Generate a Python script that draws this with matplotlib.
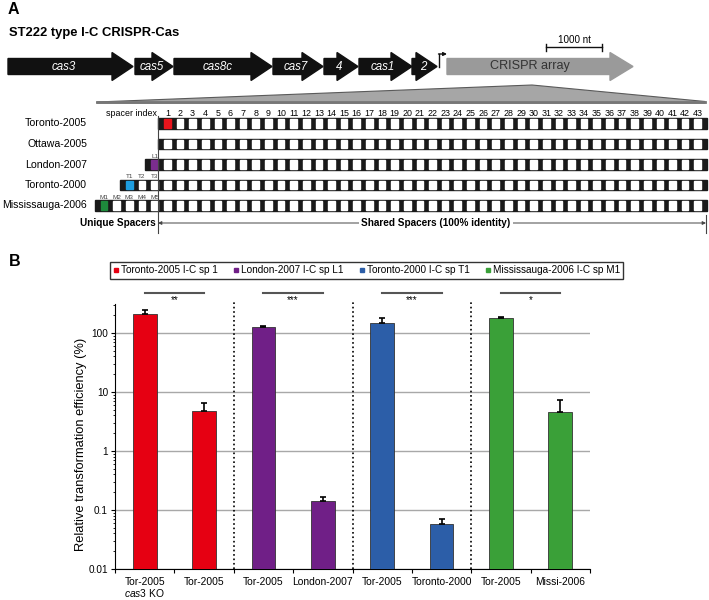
import matplotlib.pyplot as plt
from matplotlib.patches import Polygon, Rectangle
from matplotlib.lines import Line2D

plt.rcParams['font.family'] = ['Liberation Sans', 'DejaVu Sans']
plt.rcParams['mathtext.fontset'] = 'custom'
plt.rcParams['mathtext.it'] = 'Liberation Sans:italic'
plt.rcParams['mathtext.rm'] = 'Liberation Sans'

# ---- panel A data (schematic, drawn in pixel units) ----
genes = ['cas3', 'cas5', 'cas8c', 'cas7', '4', 'cas1', '2']
gene_start = [8, 135, 174, 273, 324, 359, 412]
gene_end = [133, 173, 272, 323, 358, 412, 437]

strains = ['Toronto-2005', 'Ottawa-2005', 'London-2007', 'Toronto-2000', 'Mississauga-2006']
unique_prefix = ['', '', 'L', 'T', 'M']
n_unique = [0, 0, 1, 3, 5]
n_shared = 43
hit_spacer = [('shared', 1), None, ('unique', 1), ('unique', 1), ('unique', 1)]
hit_color = ['#e8141c', None, '#7b2d8e', '#1e9ee0', '#1e8a3c']

# ---- panel B data ----
bar_labels = ['Tor-2005\n$\\mathit{cas3}$ KO', 'Tor-2005', 'Tor-2005', 'London-2007',
              'Tor-2005', 'Toronto-2000', 'Tor-2005', 'Missi-2006']
efficiency = [210, 4.7, 125, 0.14, 148, 0.058, 177, 4.6]
err_up = [38, 1.9, 6, 0.026, 32, 0.012, 8, 2.7]
groups = ['Toronto-2005 I-C sp 1', 'London-2007 I-C sp L1',
          'Toronto-2000 I-C sp T1', 'Mississauga-2006 I-C sp M1']
group_colors = ['#e60012', '#701f87', '#2c5ea8', '#3aa038']
significance = ['**', '***', '***', '*']

fig = plt.figure(figsize=(7.09, 6.0), dpi=100)

# canvas for panel A
ax0 = fig.add_axes([0, 0, 1, 1])
ax0.set_xlim(0, 709)
ax0.set_ylim(600, 0)
ax0.axis('off')

ax0.text(8, 9, 'A', fontsize=11.5, fontweight='bold', va='center')
ax0.text(9, 33, 'ST222 type I-C CRISPR-Cas', fontsize=9.4, fontweight='bold', va='center')
ax0.text(9, 262, 'B', fontsize=11.5, fontweight='bold', va='center')

# gene arrows
yc = 66.5
for name, s, e in zip(genes, gene_start, gene_end):
    head = min(21, e - s)
    b = e - head
    pts = [(s, yc - 8), (b, yc - 8), (b, yc - 14), (e, yc), (b, yc + 14), (b, yc + 8), (s, yc + 8)]
    ax0.add_patch(Polygon(pts, closed=True, color='#111111'))
    ax0.text(s + 0.45 * (e - s), yc, name, color='white', fontsize=8.3, style='italic',
             ha='center', va='center')

# promoter
ax0.plot([439, 439], [67, 54], color='#111111', lw=1)
ax0.annotate('', xy=(447, 54), xytext=(438.5, 54),
             arrowprops=dict(arrowstyle='-|>', color='#111111', lw=1, mutation_scale=5,
                             shrinkA=0, shrinkB=0))

# CRISPR array
s, e = 447, 633
b = e - 23
pts = [(s, yc - 8), (b, yc - 8), (b, yc - 14), (e, yc), (b, yc + 14), (b, yc + 8), (s, yc + 8)]
ax0.add_patch(Polygon(pts, closed=True, color='#9a9a9a'))
ax0.text(530, yc, 'CRISPR array', color='#333333', fontsize=9.1, ha='center', va='center')

# scale bar
ax0.plot([546, 602], [47, 47], color='#111111', lw=1)
ax0.plot([546, 546], [43.5, 50.5], color='#111111', lw=1)
ax0.plot([602, 602], [43.5, 50.5], color='#111111', lw=1)
ax0.text(574, 40, '1000 nt', fontsize=7.1, ha='center', va='center')

# zoom wedge
ax0.add_patch(Polygon([(97, 102), (532, 85), (705, 101.5), (705, 103), (97, 103)],
                      closed=True, facecolor='#a6a6a6', edgecolor='#5a5a5a', lw=0.8))
ax0.plot([97, 705], [102, 102], color='#777777', lw=2)

# spacer arrays
u, r = 12.63, 6.0
sp = u - r
x0 = 158
h = 10.5
ax0.text(157, 113, 'spacer index', fontsize=6.4, ha='right', va='center')
for k in range(1, n_shared + 1):
    ax0.text(x0 + (k - 1) * u + r + sp / 2, 113, str(k), fontsize=6.4, ha='center', va='center')

for i, name in enumerate(strains):
    y = 123.5 + 20.5 * i
    nu = n_unique[i]
    xs = x0 - nu * u
    ax0.text(87, y, name, fontsize=7.6, ha='right', va='center')
    ax0.add_patch(Rectangle((xs, y - h / 2), (nu + n_shared) * u + r, h, color='#1a1a1a'))
    for k in range(nu + n_shared):
        fc = 'white'
        hit = hit_spacer[i]
        if hit is not None:
            if hit[0] == 'unique' and k == hit[1] - 1:
                fc = hit_color[i]
            if hit[0] == 'shared' and k == nu + hit[1] - 1:
                fc = hit_color[i]
        ax0.add_patch(Rectangle((xs + k * u + r, y - h / 2 + 1.2), sp, h - 2.4, color=fc))
    for j in range(nu):
        ax0.text(xs + j * u + r + sp / 2, y - h / 2 - 3.2, unique_prefix[i] + str(j + 1),
                 fontsize=4.6, color='#444444', ha='center', va='center')

ax0.plot([158, 158], [116, 233], color='#444444', lw=0.8)
ax0.plot([706, 706], [215, 233], color='#444444', lw=0.8)
ax0.annotate('', xy=(158, 223), xytext=(706, 223),
             arrowprops=dict(arrowstyle='<|-|>', color='#444444', lw=0.7, mutation_scale=5,
                             shrinkA=0, shrinkB=0))
ax0.text(436, 223, 'Shared Spacers (100% identity)', fontsize=7.2, fontweight='bold',
         ha='center', va='center', bbox=dict(facecolor='white', edgecolor='none', pad=1.5))
ax0.text(156, 223, 'Unique Spacers', fontsize=7.2, fontweight='bold', ha='right', va='center')

# ---- panel B ----
ax = fig.add_axes([115 / 709, 31 / 600, 475 / 709, 265 / 600])
xpos = [k + 0.5 for k in range(len(efficiency))]
colors = [group_colors[k // 2] for k in range(len(efficiency))]
ax.bar(xpos, efficiency, width=0.4, color=colors, edgecolor='#333333', linewidth=0.6, zorder=3)
ax.errorbar(xpos, efficiency, yerr=[[0] * len(err_up), err_up], fmt='none', ecolor='black',
            elinewidth=1.2, capsize=2, capthick=1.2, zorder=4)

ax.set_yscale('log')
ax.set_ylim(0.01, 310)
ax.set_xlim(0, 8)
ax.set_yticks([0.01, 0.1, 1, 10, 100])
ax.set_yticklabels(['0.01', '0.1', '1', '10', '100'])
ax.grid(axis='y', which='major', color='#a8a8a8', linewidth=1)
ax.set_axisbelow(True)
ax.tick_params(axis='y', which='major', length=3, pad=2, labelsize=7.2, direction='out')
ax.tick_params(axis='y', which='minor', length=1.5, direction='out')
ax.set_xticks(range(9))
ax.set_xticklabels([])
ax.set_xticks(xpos, minor=True)
ax.set_xticklabels(bar_labels, minor=True, linespacing=1.0)
ax.tick_params(axis='x', which='major', length=3, direction='out')
ax.tick_params(axis='x', which='minor', length=0, pad=6, labelsize=7.4)
for sp_name in ['top', 'right']:
    ax.spines[sp_name].set_visible(False)
ax.set_ylabel('Relative transformation efficiency (%)', fontsize=9.3)
ax.yaxis.set_label_coords(-0.058, 0.47)

ax.vlines([2, 4, 6], 0.01, 360, colors='black', linestyles=':', linewidth=1.2, clip_on=False)
for g, stars in enumerate(significance):
    x1, x2 = xpos[2 * g], xpos[2 * g + 1]
    ax.plot([x1, x2], [476, 476], color='#555555', lw=1.5, clip_on=False)
    ax.text((x1 + x2) / 2, 365, stars, fontsize=7, ha='center', va='center')

handles = [Line2D([], [], marker='s', ls='', ms=2.8, color=c) for c in group_colors]
fig.legend(handles, groups, ncol=4, loc='center', bbox_to_anchor=(0.517, 0.55),
           bbox_transform=fig.transFigure, fontsize=7.2, frameon=True, fancybox=False,
           edgecolor='#333333', framealpha=1, handlelength=0.6, handletextpad=0.2,
           columnspacing=1.5, borderpad=0.35)

fig.savefig('out.png', dpi=100)
